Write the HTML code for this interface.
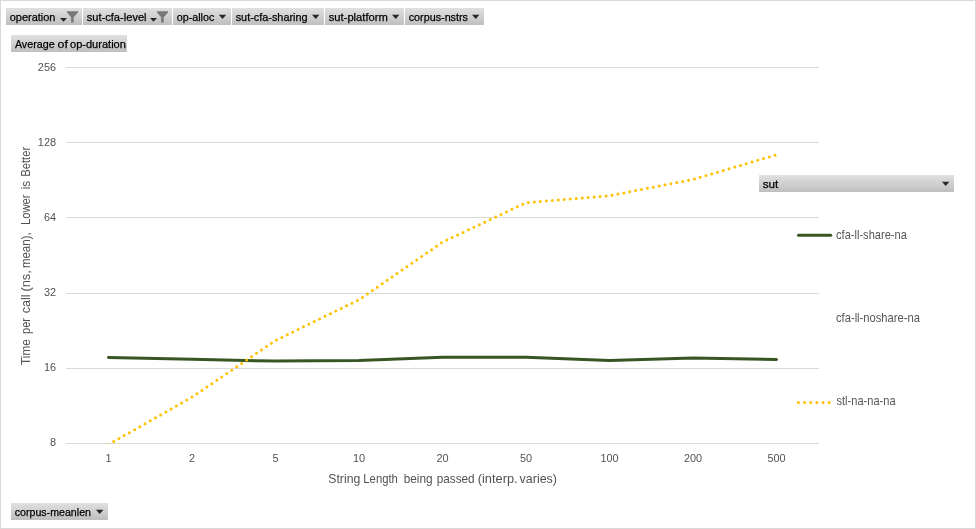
<!DOCTYPE html>
<html lang="en">
<head>
<meta charset="utf-8">
<title>Average of op-duration</title>
<style>
html,body{margin:0;padding:0;background:#fff;}
body{width:976px;height:529px;overflow:hidden;font-family:"Liberation Sans","DejaVu Sans",sans-serif;}
#chart{position:absolute;left:0;top:0;width:976px;height:529px;box-sizing:border-box;border:1px solid #d9d9d9;background:#fff;}
svg{position:absolute;left:0;top:0;display:block;}
text{font-family:"Liberation Sans","DejaVu Sans",sans-serif;}
.btn text{font-size:11.8px;fill:#000;stroke:#000;stroke-width:0.25px;}
.ax text{font-size:10.9px;fill:#525252;}
.ttl{font-size:12.2px;fill:#525252;}
.leg text{font-size:12.2px;fill:#555;}
</style>
</head>
<body>
<div id="chart"></div>
<svg width="976" height="529" viewBox="0 0 976 529">
<defs>
<linearGradient id="bg" x1="0" y1="0" x2="0" y2="1"><stop offset="0" stop-color="#e0e0e0"/><stop offset="1" stop-color="#bfbfbf"/></linearGradient>
<clipPath id="plot"><rect x="66" y="60" width="753" height="383.6"/></clipPath>
</defs>

<g class="grid" stroke="#d9d9d9" stroke-width="1" shape-rendering="crispEdges">
<line x1="66" x2="819" y1="67.5" y2="67.5"/>
<line x1="66" x2="819" y1="142.7" y2="142.7"/>
<line x1="66" x2="819" y1="217.9" y2="217.9"/>
<line x1="66" x2="819" y1="293.1" y2="293.1"/>
<line x1="66" x2="819" y1="368.3" y2="368.3"/>
<line x1="66" x2="819" y1="443.5" y2="443.5"/>
</g>
<g class="ax">
<text x="56" y="71.0" text-anchor="end">256</text>
<text x="56" y="146.0" text-anchor="end">128</text>
<text x="56" y="220.8" text-anchor="end">64</text>
<text x="56" y="295.8" text-anchor="end">32</text>
<text x="56" y="370.8" text-anchor="end">16</text>
<text x="56" y="446.0" text-anchor="end">8</text>
<text x="108.5" y="462" text-anchor="middle">1</text>
<text x="192.0" y="462" text-anchor="middle">2</text>
<text x="275.5" y="462" text-anchor="middle">5</text>
<text x="359.0" y="462" text-anchor="middle">10</text>
<text x="442.5" y="462" text-anchor="middle">20</text>
<text x="526.0" y="462" text-anchor="middle">50</text>
<text x="609.5" y="462" text-anchor="middle">100</text>
<text x="693.0" y="462" text-anchor="middle">200</text>
<text x="776.5" y="462" text-anchor="middle">500</text>
</g>
<text class="ttl" y="482.7"><tspan x="328.3" textLength="32.0" lengthAdjust="spacingAndGlyphs">String</tspan> <tspan x="363.3" textLength="34.6" lengthAdjust="spacingAndGlyphs">Length</tspan>  <tspan x="403.7" textLength="28.9" lengthAdjust="spacingAndGlyphs">being</tspan> <tspan x="436.8" textLength="37.8" lengthAdjust="spacingAndGlyphs">passed</tspan> <tspan x="477.7" textLength="40.0" lengthAdjust="spacingAndGlyphs">(interp.</tspan> <tspan x="519.6" textLength="37.4" lengthAdjust="spacingAndGlyphs">varies)</tspan></text>
<g transform="translate(30,365) rotate(-90)"><text class="ttl" y="0"><tspan x="0.0" textLength="26.0" lengthAdjust="spacingAndGlyphs">Time</tspan> <tspan x="31.1" textLength="15.9" lengthAdjust="spacingAndGlyphs">per</tspan> <tspan x="51.8" textLength="18.8" lengthAdjust="spacingAndGlyphs">call</tspan> <tspan x="73.4" textLength="21.5" lengthAdjust="spacingAndGlyphs">(ns,</tspan> <tspan x="96.9" textLength="35.8" lengthAdjust="spacingAndGlyphs">mean),</tspan>  <tspan x="139.9" textLength="30.6" lengthAdjust="spacingAndGlyphs">Lower</tspan> <tspan x="175.7" textLength="8.5" lengthAdjust="spacingAndGlyphs">is</tspan> <tspan x="188.2" textLength="30.0" lengthAdjust="spacingAndGlyphs">Better</tspan></text></g>
<g clip-path="url(#plot)" fill="none" stroke-linecap="round" stroke-linejoin="round">
<polyline points="108.5,357.5 192.0,359.3 275.5,361.1 359.0,360.4 442.5,357.3 526.0,357.3 609.5,360.6 693.0,357.9 776.5,359.5" stroke="#375623" stroke-width="3"/>
<polyline points="108.5,444.5 192.0,397.1 275.5,340.5 359.0,299.8 442.5,242.1 526.0,202.7 609.5,195.7 693.0,179.4 776.5,154.8" stroke="#ffc000" stroke-width="3" stroke-dasharray="0 6"/>
</g>
<g class="leg">
<line x1="798.5" x2="830.7" y1="235.3" y2="235.3" stroke="#375623" stroke-width="3" stroke-linecap="round"/>
<text y="239.0"><tspan x="836.0" textLength="70.9" lengthAdjust="spacingAndGlyphs">cfa-ll-share-na</tspan></text>
<text y="322.0"><tspan x="836.0" textLength="83.9" lengthAdjust="spacingAndGlyphs">cfa-ll-noshare-na</tspan></text>
<line x1="798.4" x2="830.7" y1="402.5" y2="402.5" stroke="#ffc000" stroke-width="3" stroke-linecap="round" stroke-dasharray="0 6.15"/>
<text y="404.8"><tspan x="836.5" textLength="59.1" lengthAdjust="spacingAndGlyphs">stl-na-na-na</tspan></text>
</g>
<g class="btn">
<rect x="6" y="8" width="76" height="17" fill="url(#bg)"/>
<text y="21"><tspan x="9.7" textLength="45.8" lengthAdjust="spacingAndGlyphs">operation</tspan></text>
<path d="M60.0,18.1 h7 l-3.5,3.7 z" fill="#262626"/>
<path d="M67.0,11.3 h11 v1.2 l-4.3,4.8 v5.1 h-2.6 v-5.1 l-4.1,-4.8 z" fill="#787878"/>
<rect x="83" y="8" width="89" height="17" fill="url(#bg)"/>
<text y="21"><tspan x="86.7" textLength="59.9" lengthAdjust="spacingAndGlyphs">sut-cfa-level</tspan></text>
<path d="M150.0,18.1 h7 l-3.5,3.7 z" fill="#262626"/>
<path d="M157.0,11.3 h11 v1.2 l-4.3,4.8 v5.1 h-2.6 v-5.1 l-4.1,-4.8 z" fill="#787878"/>
<rect x="173" y="8" width="58" height="17" fill="url(#bg)"/>
<text y="21"><tspan x="176.7" textLength="37.6" lengthAdjust="spacingAndGlyphs">op-alloc</tspan></text>
<path d="M218.8,14.8 h7.4 l-3.7,4.3 z" fill="#262626"/>
<rect x="232" y="8" width="92" height="17" fill="url(#bg)"/>
<text y="21"><tspan x="235.7" textLength="71.9" lengthAdjust="spacingAndGlyphs">sut-cfa-sharing</tspan></text>
<path d="M312.0,14.8 h7.4 l-3.7,4.3 z" fill="#262626"/>
<rect x="325" y="8" width="79" height="17" fill="url(#bg)"/>
<text y="21"><tspan x="328.7" textLength="59.2" lengthAdjust="spacingAndGlyphs">sut-platform</tspan></text>
<path d="M392.0,14.8 h7.4 l-3.7,4.3 z" fill="#262626"/>
<rect x="405" y="8" width="79" height="17" fill="url(#bg)"/>
<text y="21"><tspan x="408.7" textLength="59.3" lengthAdjust="spacingAndGlyphs">corpus-nstrs</tspan></text>
<path d="M472.0,14.8 h7.4 l-3.7,4.3 z" fill="#262626"/>
<rect x="11" y="35" width="116" height="17" fill="url(#bg)"/>
<text y="48"><tspan x="14.9" textLength="39.7" lengthAdjust="spacingAndGlyphs">Average</tspan> <tspan x="57.6" textLength="10.3" lengthAdjust="spacingAndGlyphs">of</tspan> <tspan x="70.0" textLength="55.9" lengthAdjust="spacingAndGlyphs">op-duration</tspan></text>
<rect x="11" y="503" width="97" height="17" fill="url(#bg)"/>
<text y="516"><tspan x="14.7" textLength="76.3" lengthAdjust="spacingAndGlyphs">corpus-meanlen</tspan></text>
<path d="M96.0,509.8 h7.4 l-3.7,4.3 z" fill="#262626"/>
<rect x="759" y="175" width="195" height="17" fill="url(#bg)"/>
<text y="188"><tspan x="762.7" textLength="15.7" lengthAdjust="spacingAndGlyphs">sut</tspan></text>
<path d="M942.0,181.8 h7.4 l-3.7,4.3 z" fill="#262626"/>
</g>
</svg>
</body>
</html>
